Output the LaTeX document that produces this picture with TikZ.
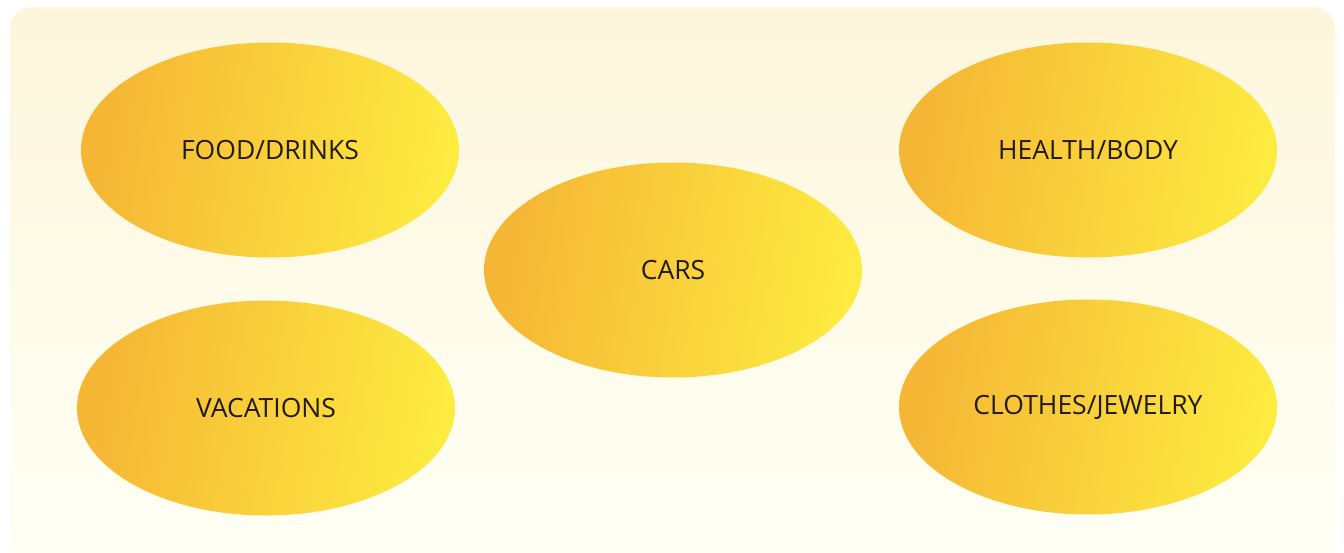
\documentclass[tikz,border=0pt]{standalone}
\usepackage{fontspec}
\setmainfont{Open Sans}
\usetikzlibrary{shapes.geometric}
\definecolor{creamtop}{HTML}{FDF6DC}
\definecolor{creambot}{HTML}{FFFFF5}
\definecolor{blobleft}{HTML}{F5B535}
\definecolor{blobmid}{HTML}{F9D13B}
\definecolor{blobright}{HTML}{FDEB40}
\definecolor{labelink}{HTML}{231A12}
\tikzset{
  blob/.style={ellipse, minimum width=378pt, minimum height=215pt, inner sep=0pt,
    left color=blobleft, middle color=blobmid, right color=blobright,
    shading angle=80,
    text=labelink, font=\fontsize{26.5}{30}\selectfont},
}
\begin{document}
\begin{tikzpicture}[x=1pt,y=-1pt]
  \useasboundingbox (0,0) rectangle (1344,552);
  \fill[white] (0,0) rectangle (1344,552);
  % pale backdrop panel
  \shade[top color=creamtop, bottom color=creambot, rounded corners=22pt]
    (10,7) rectangle (1335,560);
  % category ellipses
  \node[blob] (food) at (270,150) {FOOD/DRINKS};
  \node[blob] (health) at (1088,150) {HEALTH/BODY};
  \node[blob] (cars) at (673,270) {CARS};
  \node[blob] (vac) at (266,408) {VACATIONS};
  \node[blob] (cloth) at (1088,407) {CLOTHES/JEWELRY};
\end{tikzpicture}
\end{document}
